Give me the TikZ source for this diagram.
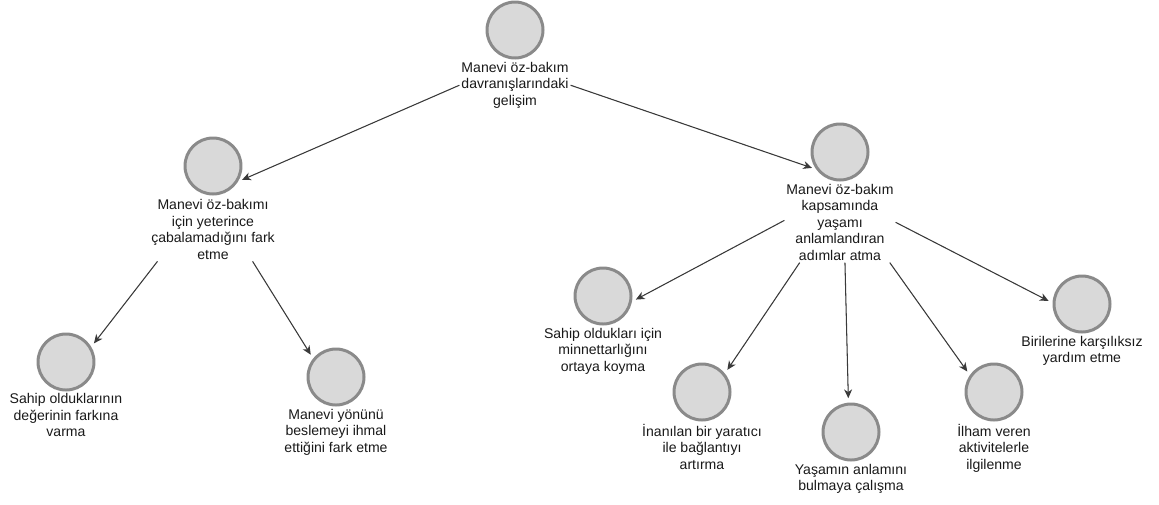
\documentclass[tikz,border=0pt]{standalone}
\usepackage{fontspec}
\setmainfont{Liberation Sans}
\usepackage{xcolor}
\usepackage{tikz}
\usetikzlibrary{arrows.meta,positioning}

\definecolor{ringgray}{HTML}{8A8A8A}
\definecolor{discgray}{HTML}{D9D9D9}
\definecolor{edgegray}{HTML}{3A3A3A}

\begin{document}
\begin{tikzpicture}[x=0.2mm,y=-0.2mm,
  disc/.style={circle,draw=ringgray,fill=discgray,line width=1.7pt,minimum size=1.12cm,inner sep=0pt},
  caption/.style={align=center,inner sep=1pt,text=black!90,font=\fontsize{8}{9.4}\selectfont},
  arr/.style={-{Stealth[length=5pt,width=4.5pt,inset=1.5pt]},draw=edgegray,fill=edgegray,line width=0.6pt,shorten >=2.5pt}]

  \useasboundingbox (0,0) rectangle (1159,504);

%  top
  \node[disc] (gelisim) at (515,30) {};
  \node[caption,below=0.3pt of gelisim] (gelisim-t) {Manevi öz-bakım\\davranışlarındaki\\gelişim};

%  first level
  \node[disc] (caba) at (213,166) {};
  \node[caption,below=1pt of caba] (caba-t) {Manevi öz-bakımı\\için yeterince\\çabalamadığını fark\\etme};
  \node[disc] (anlam) at (840,152) {};
  \node[caption,below=0.3pt of anlam] (anlam-t) {Manevi öz-bakım\\kapsamında\\yaşamı\\anlamlandıran\\adımlar atma};

%  leaves on the left
  \node[disc] (deger) at (66,362) {};
  \node[caption,below=0pt of deger] (deger-t) {Sahip olduklarının\\değerinin farkına\\varma};
  \node[disc] (ihmal) at (336,377) {};
  \node[caption,below=0.3pt of ihmal] (ihmal-t) {Manevi yönünü\\beslemeyi ihmal\\ettiğini fark etme};

%  leaves on the right
  \node[disc] (minnet) at (603,296) {};
  \node[caption,below=0.3pt of minnet] (minnet-t) {Sahip oldukları için\\minnettarlığını\\ortaya koyma};
  \node[disc] (yaratici) at (702,392) {};
  \node[caption,below=0.3pt of yaratici] (yaratici-t) {İnanılan bir yaratıcı\\ile bağlantıyı\\artırma};
  \node[disc] (yasam) at (851,432) {};
  \node[caption,below=0.3pt of yasam] (yasam-t) {Yaşamın anlamını\\bulmaya çalışma};
  \node[disc] (ilham) at (994,392) {};
  \node[caption,below=0.3pt of ilham] (ilham-t) {İlham veren\\aktivitelerle\\ilgilenme};
  \node[disc] (yardim) at (1082,304) {};
  \node[caption,below=0.3pt of yardim] (yardim-t) {Birilerine karşılıksız\\yardım etme};

  \draw[arr] (gelisim-t.180) -- (caba.-32);
  \draw[arr] (gelisim-t.0) -- (anlam.216);

  \draw[arr] (caba-t.210) -- (deger.31);
  \draw[arr] (caba-t.-39) -- (ihmal.141);

  \draw[arr] (anlam-t.178) -- (minnet.-11);
  \draw[arr] (anlam-t.225) -- (yaratici.39);
  \draw[arr] (anlam-t.-83) -- (yasam.95);
  \draw[arr] (anlam-t.-39) -- (ilham.145);
  \draw[arr] (anlam-t.0) -- (yardim.178);

\end{tikzpicture}
\end{document}
